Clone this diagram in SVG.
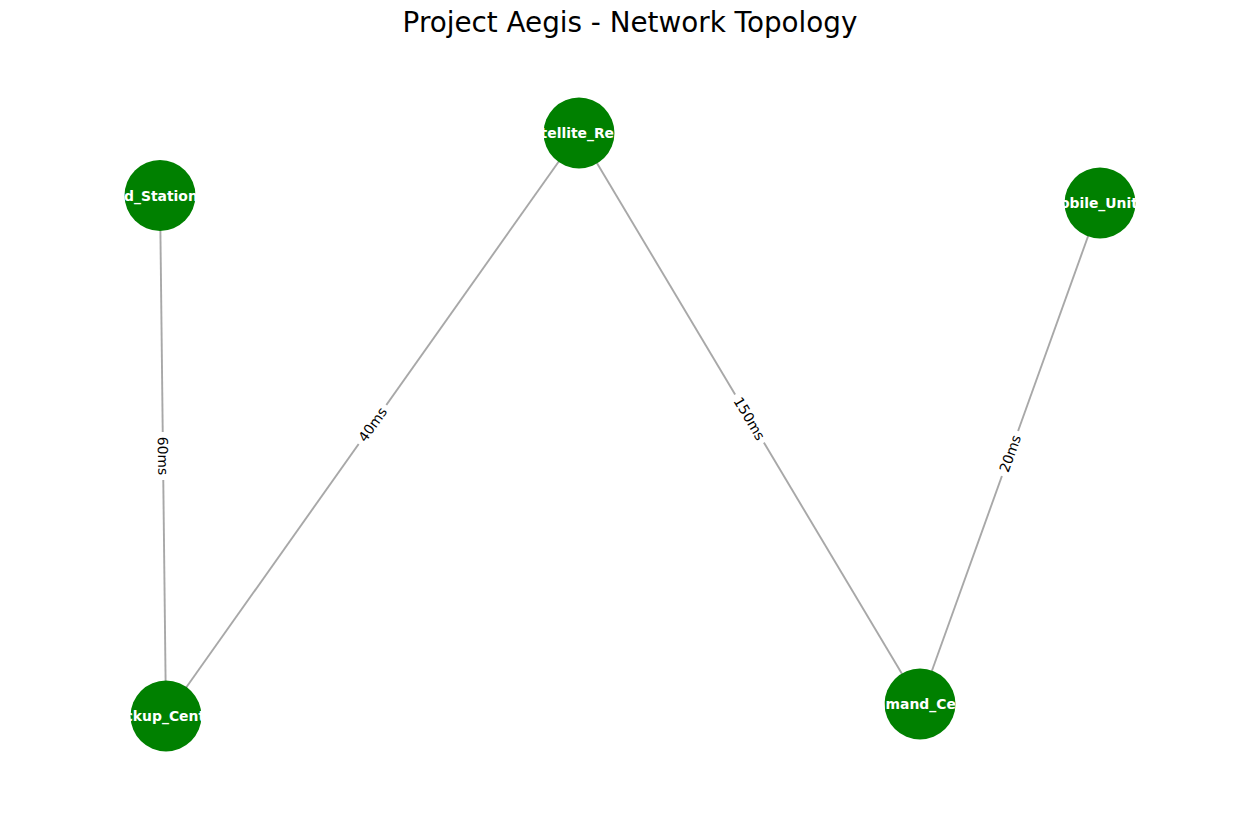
<svg xmlns="http://www.w3.org/2000/svg" width="1260" height="820" viewBox="0 0 1260 820">
<style>
.edge{stroke:#a8a8a8;stroke-width:1.9;fill:none}
.node{fill:#008000}
.nlabel{font-family:"DejaVu Sans",sans-serif;font-weight:bold;font-size:13.9px;fill:#ffffff}
.elabel{font-family:"DejaVu Sans",sans-serif;font-size:13.9px;fill:#000000;text-anchor:middle;dominant-baseline:central}
.ebox{fill:#ffffff}
.title{font-family:"DejaVu Sans",sans-serif;font-size:27.8px;fill:#000000;text-anchor:middle}
</style>
<rect width="1260" height="820" fill="#ffffff"/>
<text class="title" x="630" y="32">Project Aegis - Network Topology</text>
<g id="connectors">
  <line class="edge" x1="160" y1="195.5" x2="166" y2="716"/>
  <line class="edge" x1="166" y1="716" x2="579" y2="133"/>
  <line class="edge" x1="579" y1="133" x2="920" y2="704"/>
  <line class="edge" x1="920" y1="704" x2="1100" y2="203"/>
  <g transform="translate(163,456) rotate(89.3)">
    <rect class="ebox" x="-24" y="-10" width="48" height="20" rx="4"/>
    <text class="elabel" x="0" y="0">60ms</text>
  </g>
  <g transform="translate(372.5,424.5) rotate(-54.7)">
    <rect class="ebox" x="-24" y="-10" width="48" height="20" rx="4"/>
    <text class="elabel" x="0" y="0">40ms</text>
  </g>
  <g transform="translate(749.5,418.5) rotate(59.2)">
    <rect class="ebox" x="-28" y="-10" width="56" height="20" rx="4"/>
    <text class="elabel" x="0" y="0">150ms</text>
  </g>
  <g transform="translate(1010,453.5) rotate(-70.2)">
    <rect class="ebox" x="-24" y="-10" width="48" height="20" rx="4"/>
    <text class="elabel" x="0" y="0">20ms</text>
  </g>
</g>
<g id="node-field-station">
  <circle class="node" cx="160" cy="195.5" r="35.5"/>
  <text class="nlabel" x="95.6" y="200.5">Field_Station</text>
</g>
<g id="node-satellite-relay">
  <circle class="node" cx="579" cy="133" r="35.5"/>
  <text class="nlabel" x="579" y="138" text-anchor="middle">Satellite_Relay</text>
</g>
<g id="node-mobile-unit">
  <circle class="node" cx="1100" cy="203" r="35.5"/>
  <text class="nlabel" x="1092" y="208" text-anchor="middle">Mobile_Unit</text>
</g>
<g id="node-backup-center">
  <circle class="node" cx="166" cy="716" r="35.5"/>
  <text class="nlabel" x="163" y="721" text-anchor="middle">Backup_Center</text>
</g>
<g id="node-command-center">
  <circle class="node" cx="920" cy="704" r="35.5"/>
  <text class="nlabel" x="920" y="709" text-anchor="middle">Command_Center</text>
</g>
</svg>
